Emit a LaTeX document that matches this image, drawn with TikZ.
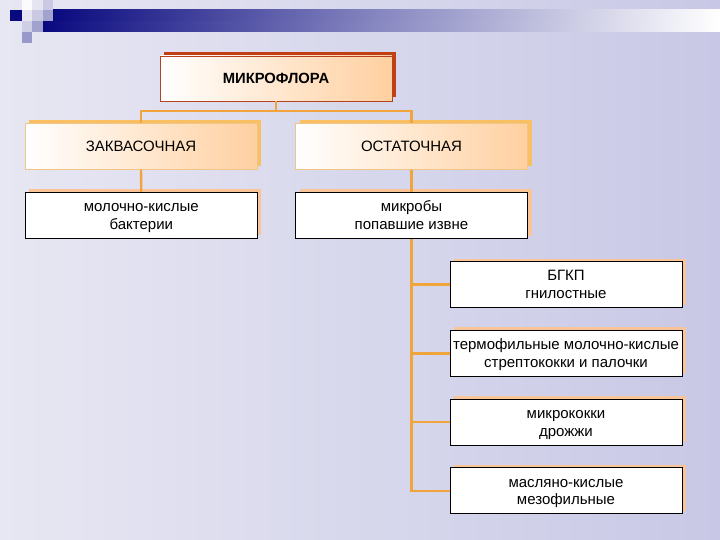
\documentclass[tikz,border=0pt]{standalone}
\usepackage{fontspec}
\setmainfont{Liberation Sans}
\usetikzlibrary{shadows}
\definecolor{bgL}{HTML}{E7E7F3}
\definecolor{bgR}{HTML}{C8C8E6}
\definecolor{navy}{HTML}{0A0A80}
\definecolor{peach}{HTML}{FFD0A0}
\definecolor{redbrd}{HTML}{B4421E}
\definecolor{redshd}{HTML}{C23E14}
\definecolor{orbrd}{HTML}{F2C485}
\definecolor{orshd}{HTML}{F8BF63}
\definecolor{lshd}{HTML}{F9C498}
\definecolor{conn}{HTML}{F2A43C}
\tikzset{
  box/.style={minimum width=232pt, minimum height=46pt, inner sep=0pt, align=center,
    font=\fontsize{15}{17.6}\selectfont},
  topbox/.style={box, minimum height=45pt, draw=redbrd, line width=0.8pt, left color=white, right color=peach,
    general shadow={fill=redshd, shadow xshift=4pt, shadow yshift=4pt}, font=\fontsize{14.8}{17}\selectfont\bfseries},
  midbox/.style={box, draw=orbrd, line width=0.8pt, left color=white, right color=peach,
    general shadow={fill=orshd, shadow xshift=4pt, shadow yshift=3.5pt}},
  leafbox/.style={box, draw=black, line width=0.8pt, fill=white, text height=28pt, text depth=0pt,
    general shadow={fill=lshd, shadow xshift=4pt, shadow yshift=3pt}},
  link/.style={draw=conn, line width=2.4pt}
}
\begin{document}
\begin{tikzpicture}[x=1pt,y=-1pt]
\useasboundingbox (0,0) rectangle (720,540);
% background
\shade[left color=bgL, right color=bgR] (0,0) rectangle (720,540);
% banner
\shade[left color=navy, right color=white, middle color=navy!48!white] (43,21) rectangle (720,32);
\shade[left color=navy, right color=white, middle color=navy!48!white] (53,10) rectangle (720,21);
\fill[navy] (10,10) rectangle (21.5,21.5);
\fill[white!85!bgL] (21.5,0) rectangle (32,10);
\fill[navy!22!white] (43,0) rectangle (53,10);
\fill[navy!22!white] (32,10) rectangle (43,21.5);
\fill[navy!38!white] (43,10) rectangle (53,21.5);
\fill[navy!20!white] (21.5,21.5) rectangle (32,32);
\fill[navy!38!white] (32,21.5) rectangle (43,32);
\fill[navy!42!white] (21.5,32) rectangle (32,43);
% nodes
\node[topbox] (main) at (276,78.5) {МИКРОФЛОРА};
\node[midbox] (zak) at (141,146.3) {ЗАКВАСОЧНАЯ};
\node[midbox] (ost) at (411.5,146.3) {ОСТАТОЧНАЯ};
\node[leafbox] (mol) at (141.3,215.3) {молочно-кислые\\бактерии};
\node[leafbox] (mik) at (411.5,215.5) {микробы\\попавшие извне};
\node[leafbox] (b1) at (566,284.5) {БГКП\\гнилостные};
\node[leafbox] (b2) at (566,353.3) {термофильные молочно-кислые\\стрептококки и палочки};
\node[leafbox] (b3) at (566,422.2) {микрококки\\дрожжи};
\node[leafbox] (b4) at (566,490.8) {масляно-кислые\\мезофильные};
% connectors
\draw[link] (main.south) -- ++(0,9.5) coordinate (j);
\draw[link] (j) -| (zak.north);
\draw[link] (j) -| (ost.north);
\draw[link] (zak.south) -- (mol.north);
\draw[link] (ost.south) -- (mik.north);
\draw[link] (mik.south) |- (b4.west);
\draw[link] (mik.south |- b1.west) -- (b1.west);
\draw[link] (mik.south |- b2.west) -- (b2.west);
\draw[link] (mik.south |- b3.west) -- (b3.west);
\end{tikzpicture}
\end{document}
